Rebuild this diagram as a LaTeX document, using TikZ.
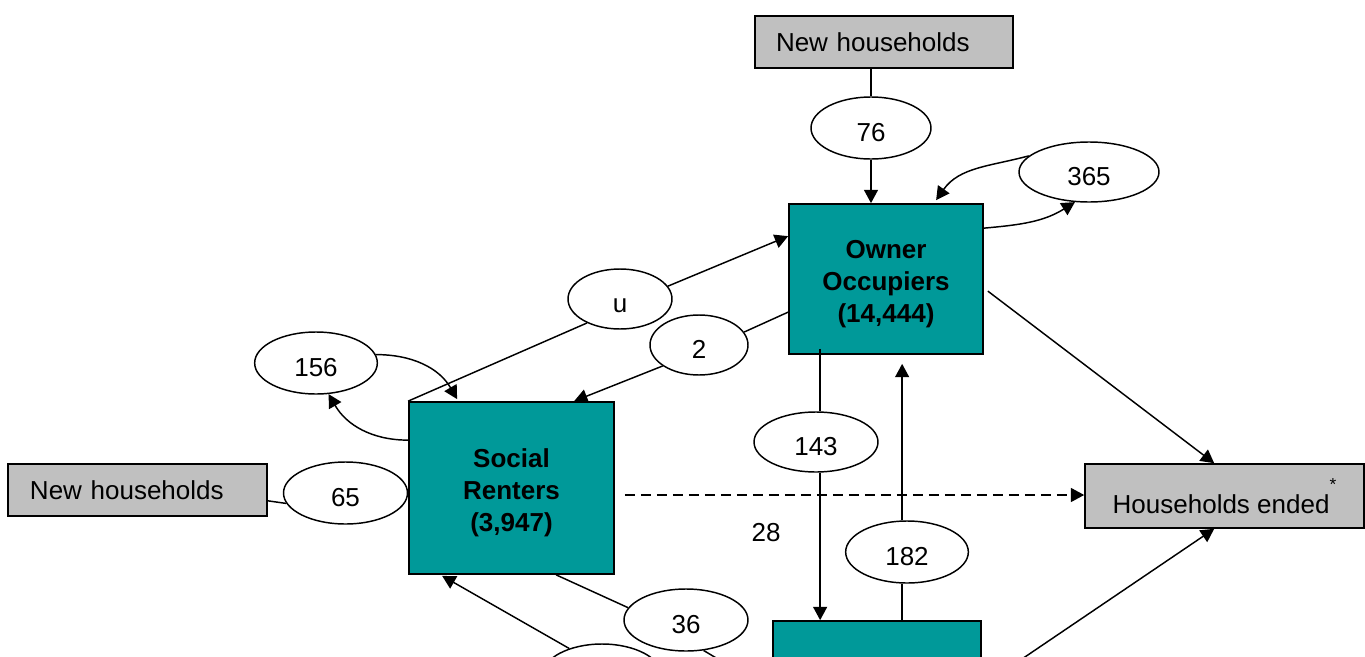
\documentclass[tikz,border=0pt]{standalone}
\usepackage{fontspec}
\setmainfont{Liberation Sans}
\usetikzlibrary{arrows.meta,calc,shapes.geometric}
\definecolor{boxteal}{HTML}{009999}
\definecolor{boxgrey}{HTML}{C0C0C0}
\begin{document}
\begin{tikzpicture}[x=0.75pt,y=-0.75pt,
  greybox/.style={draw, line width=1.2pt, fill=boxgrey, inner sep=0pt, font=\fontsize{19.5}{23}\selectfont},
  statebox/.style={draw, line width=1.3pt, fill=boxteal, inner sep=0pt, align=center, font=\bfseries\fontsize{19.5}{24}\selectfont},
  flow/.style={draw, ellipse, line width=1.1pt, fill=white, inner sep=0pt, text height=20pt, text depth=0pt, font=\fontsize{19.5}{23}\selectfont},
  conn/.style={line width=1.1pt},
  arr/.style={conn, -{Triangle[length=10pt,width=10.5pt]}},
]
\useasboundingbox (0,0) rectangle (1365,657);
\clip (0,0) rectangle (1365,657);

% boxes
\node[greybox, minimum width=193.5pt, minimum height=39pt, text width=162pt, align=left, inner xsep=15.75pt] (nhtop) at (884,42) {New households};
\node[greybox, minimum width=194.25pt, minimum height=39pt, text width=161.25pt, align=left, inner xsep=16.5pt] (nhleft) at (137.5,490) {New households};
\node[greybox, minimum width=209.25pt, minimum height=48pt, align=center] (ended) at (1224.5,496) {Households ended\raisebox{17pt}{\fontsize{13}{13}\selectfont *}};
\node[statebox, minimum width=145.5pt, minimum height=112.5pt] (owner) at (886,279) {\rule{0pt}{21.5pt}Owner\\Occupiers\\(14,444)};
\node[statebox, minimum width=153.75pt, minimum height=129pt] (social) at (511.5,488) {\rule{0pt}{22pt}Social\\Renters\\(3,947)};
\node[statebox, minimum width=156pt, minimum height=112.5pt] (bottom) at (877,696) {};

% flow ellipses
\node[flow, minimum width=90pt, minimum height=46.5pt] (e76) at (871,128) {76};
\node[flow, minimum width=105pt, minimum height=45pt] (e365) at (1089,172) {365};
\node[flow, minimum width=78pt, minimum height=45pt] (eu) at (620,299) {u};
\node[flow, minimum width=73.5pt, minimum height=45pt] (e2) at (699,345) {2};
\node[flow, minimum width=92pt, minimum height=46.5pt] (e156) at (316,363) {156};
\node[flow, minimum width=93pt, minimum height=46.5pt] (e65) at (345.5,493) {65};
\node[flow, minimum width=93pt, minimum height=45pt] (e143) at (816,442) {143};
\node[flow, minimum width=92pt, minimum height=46.5pt] (e182) at (907,552) {182};
\node[flow, minimum width=93pt, minimum height=46.5pt] (e36) at (686,620) {36};
\node[flow, minimum width=90pt, minimum height=48pt] (ebot) at (602,676) {};
\node[font=\fontsize{19.5}{23}\selectfont] (t28) at (766,533) {28};

% helper coordinates
\coordinate (x143) at ($(owner.south west)+(32,-6)$);
\coordinate (x182) at ($(owner.south west)+(114,0)$);
\coordinate (out36) at (770,690);

% connectors
\draw[conn] (nhtop.south -| e76.north) -- (e76.north);
\draw[arr] (e76.south) -- (e76.south |- owner.north);
\draw[arr] (e365.165) to[out=195,in=55] ($(owner.north west)+(148,-3)$);
\draw[arr] ($(owner.north east)+(0,25)$) to[out=5,in=212] (e365.245);
\draw[conn] (social.north west) -- (eu.216);
\draw[arr] (eu.15) -- ($(owner.north west)+(0,33)$);
\draw[conn] ($(owner.north west)+(0,109)$) -- (e2.16);
\draw[arr] (e2.210) -- ($(social.north west)+(166,0)$);
\draw[arr] (e156.8) to[out=0,in=120] ($(social.north west)+(49,-2)$);
\draw[arr] ($(social.north west)+(0,39)$) to[out=180,in=-60] (e156.292);
\draw[conn] ($(nhleft.south east)+(0,-16)$) -- (e65.190);
\draw[arr, dashed, dash pattern=on 7.5pt off 4.5pt] ($(social.east)+(10,7)$) -- ($(ended.west)+(0,-1)$);
\draw[arr] ($(owner.north east)+(4,88)$) -- ($(ended.north west)+(130,0)$);
\draw[arr] ($(bottom.north east)+(0,66)$) -- ($(ended.south west)+(130,0)$);
\draw[conn] (x143) -- (x143 |- e143.north);
\draw[arr] (x143 |- e143.south) -- (x143 |- bottom.north);
\draw[arr] (x182 |- e182.north) -- ($(x182)+(0,9)$);
\draw[conn] (x182 |- bottom.north) -- (x182 |- e182.south);
\draw[conn] ($(social.south west)+(148,0)$) -- (e36.168);
\draw[conn] (e36.300) -- (out36);
\draw[arr] (ebot.140) -- ($(social.south west)+(34,1)$);
\end{tikzpicture}
\end{document}
